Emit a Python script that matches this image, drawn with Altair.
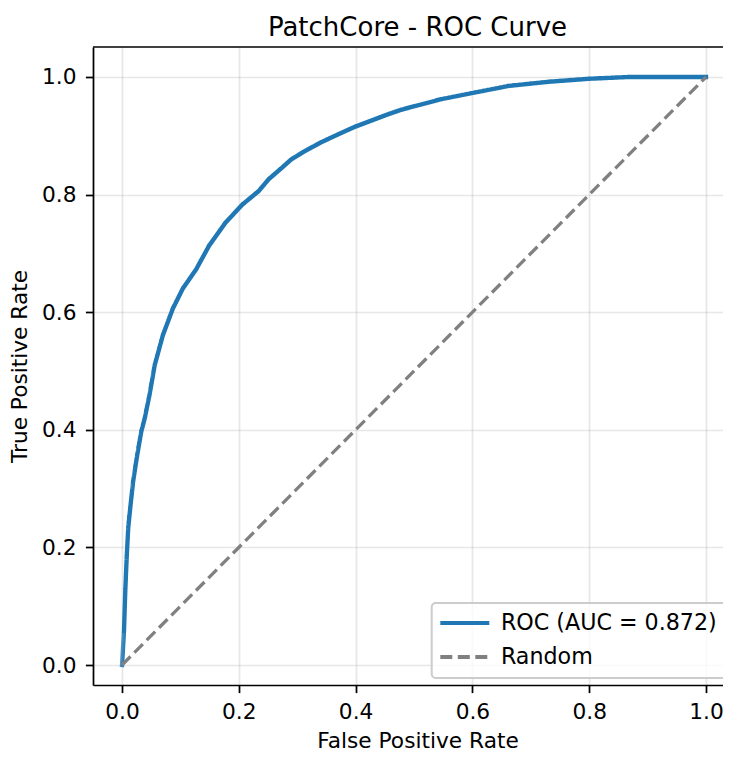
import altair as alt
import pandas as pd

# ROC curve points (False Positive Rate, True Positive Rate)
roc_fpr = [0.0, 0.0034, 0.0056, 0.008, 0.0107, 0.0147, 0.019, 0.026, 0.033, 0.039,
           0.047, 0.056, 0.070, 0.087, 0.104, 0.127, 0.149, 0.177, 0.206, 0.234,
           0.251, 0.273, 0.290, 0.313, 0.341, 0.369, 0.398, 0.454, 0.477, 0.545,
           0.601, 0.663, 0.731, 0.799, 0.867, 1.0]
roc_tpr = [0.0, 0.059, 0.126, 0.183, 0.234, 0.273, 0.312, 0.357, 0.397, 0.420,
           0.459, 0.510, 0.561, 0.606, 0.640, 0.673, 0.713, 0.752, 0.783, 0.806,
           0.826, 0.845, 0.860, 0.874, 0.889, 0.902, 0.915, 0.936, 0.944, 0.962,
           0.973, 0.985, 0.992, 0.997, 1.0, 1.0]

# Random-classifier diagonal
rand_fpr = [0.0, 1.0]
rand_tpr = [0.0, 1.0]

series_names = ["ROC (AUC = 0.872)", "Random"]
series_colors = ["#1f77b4", "#808080"]
series_dashes = [[1, 0], [12, 5.5]]
tick_values = [0.0, 0.2, 0.4, 0.6, 0.8, 1.0]

roc_df = pd.DataFrame({"fpr": roc_fpr, "tpr": roc_tpr, "series": series_names[0]})
rand_df = pd.DataFrame({"fpr": rand_fpr, "tpr": rand_tpr, "series": series_names[1]})

FONT = "DejaVu Sans"
W, H = 630, 638

x_enc = alt.X(
    "fpr:Q",
    scale=alt.Scale(domain=[-0.0497, 1.0291], nice=False, zero=False),
    axis=alt.Axis(
        values=tick_values, format=".1f", title="False Positive Rate",
        labelBaseline="alphabetic", labelPadding=25.4,
        titleX=324.5, titleY=62, titleBaseline="alphabetic", titleAlign="center",
    ),
)
y_enc = alt.Y(
    "tpr:Q",
    scale=alt.Scale(domain=[-0.034, 1.051], nice=False, zero=False),
    axis=alt.Axis(
        values=tick_values, format=".1f", title="True Positive Rate",
        labelBaseline="middle", labelPadding=9.4,
        titleAngle=270, titleX=-66.5, titleY=H / 2,
        titleBaseline="alphabetic", titleAlign="center",
    ),
)
color_enc = alt.Color(
    "series:N",
    scale=alt.Scale(domain=series_names, range=series_colors),
    legend=alt.Legend(title=None),
)
dash_enc = alt.StrokeDash(
    "series:N",
    scale=alt.Scale(domain=series_names, range=series_dashes),
    legend=alt.Legend(title=None),
)

roc_line = alt.Chart(roc_df).mark_line(strokeWidth=4.34, strokeCap="square").encode(
    x=x_enc, y=y_enc, color=color_enc, strokeDash=dash_enc
)
rand_line = alt.Chart(rand_df).mark_line(strokeWidth=3.26).encode(
    x=x_enc, y=y_enc, color=color_enc, strokeDash=dash_enc
)
# top spine of the axes frame
top_spine = alt.Chart(pd.DataFrame({"k": [0]})).mark_rule(
    color="black", strokeWidth=1.74
).encode(x=alt.value(0), x2=alt.value(W), y=alt.value(0))

chart = (
    alt.layer(roc_line, rand_line, top_spine)
    .properties(
        width=W,
        height=H,
        autosize=alt.AutoSizeParams(type="none"),
        padding={"left": 85, "top": 39, "right": 0, "bottom": 67},
        background="white",
        title=alt.TitleParams(
            text="PatchCore - ROC Curve", font=FONT, fontSize=26,
            fontWeight="normal", color="black", baseline="alphabetic",
            offset=12.7, dy=28.5, dx=9.5, anchor="middle",
        ),
    )
    .configure_view(stroke=None)
    .configure_axis(
        domain=True, domainColor="black", domainWidth=1.74,
        ticks=True, tickSize=7.6, tickWidth=1.74, tickColor="black",
        labelFont=FONT, labelFontSize=21.7, labelColor="black",
        labelFlush=False, labelOverlap=False,
        grid=True, gridColor="#b0b0b0", gridOpacity=0.3, gridWidth=1.74,
        titleFont=FONT, titleFontSize=21.7, titleFontWeight="normal", titleColor="black",
    )
    .configure_legend(
        orient="none", legendX=338.7, legendY=556,
        padding=9, rowPadding=11,
        fillColor="rgba(255,255,255,0.8)", strokeColor="#cccccc", strokeWidth=2,
        cornerRadius=4,
        labelFont=FONT, labelFontSize=22.2, labelColor="black", labelLimit=0,
        symbolType="M-2.3,0H7.5", symbolSize=100, symbolStrokeWidth=4,
        labelOffset=38,
    )
)

chart.save("out.html", embed_options={"renderer": "svg", "actions": False})
